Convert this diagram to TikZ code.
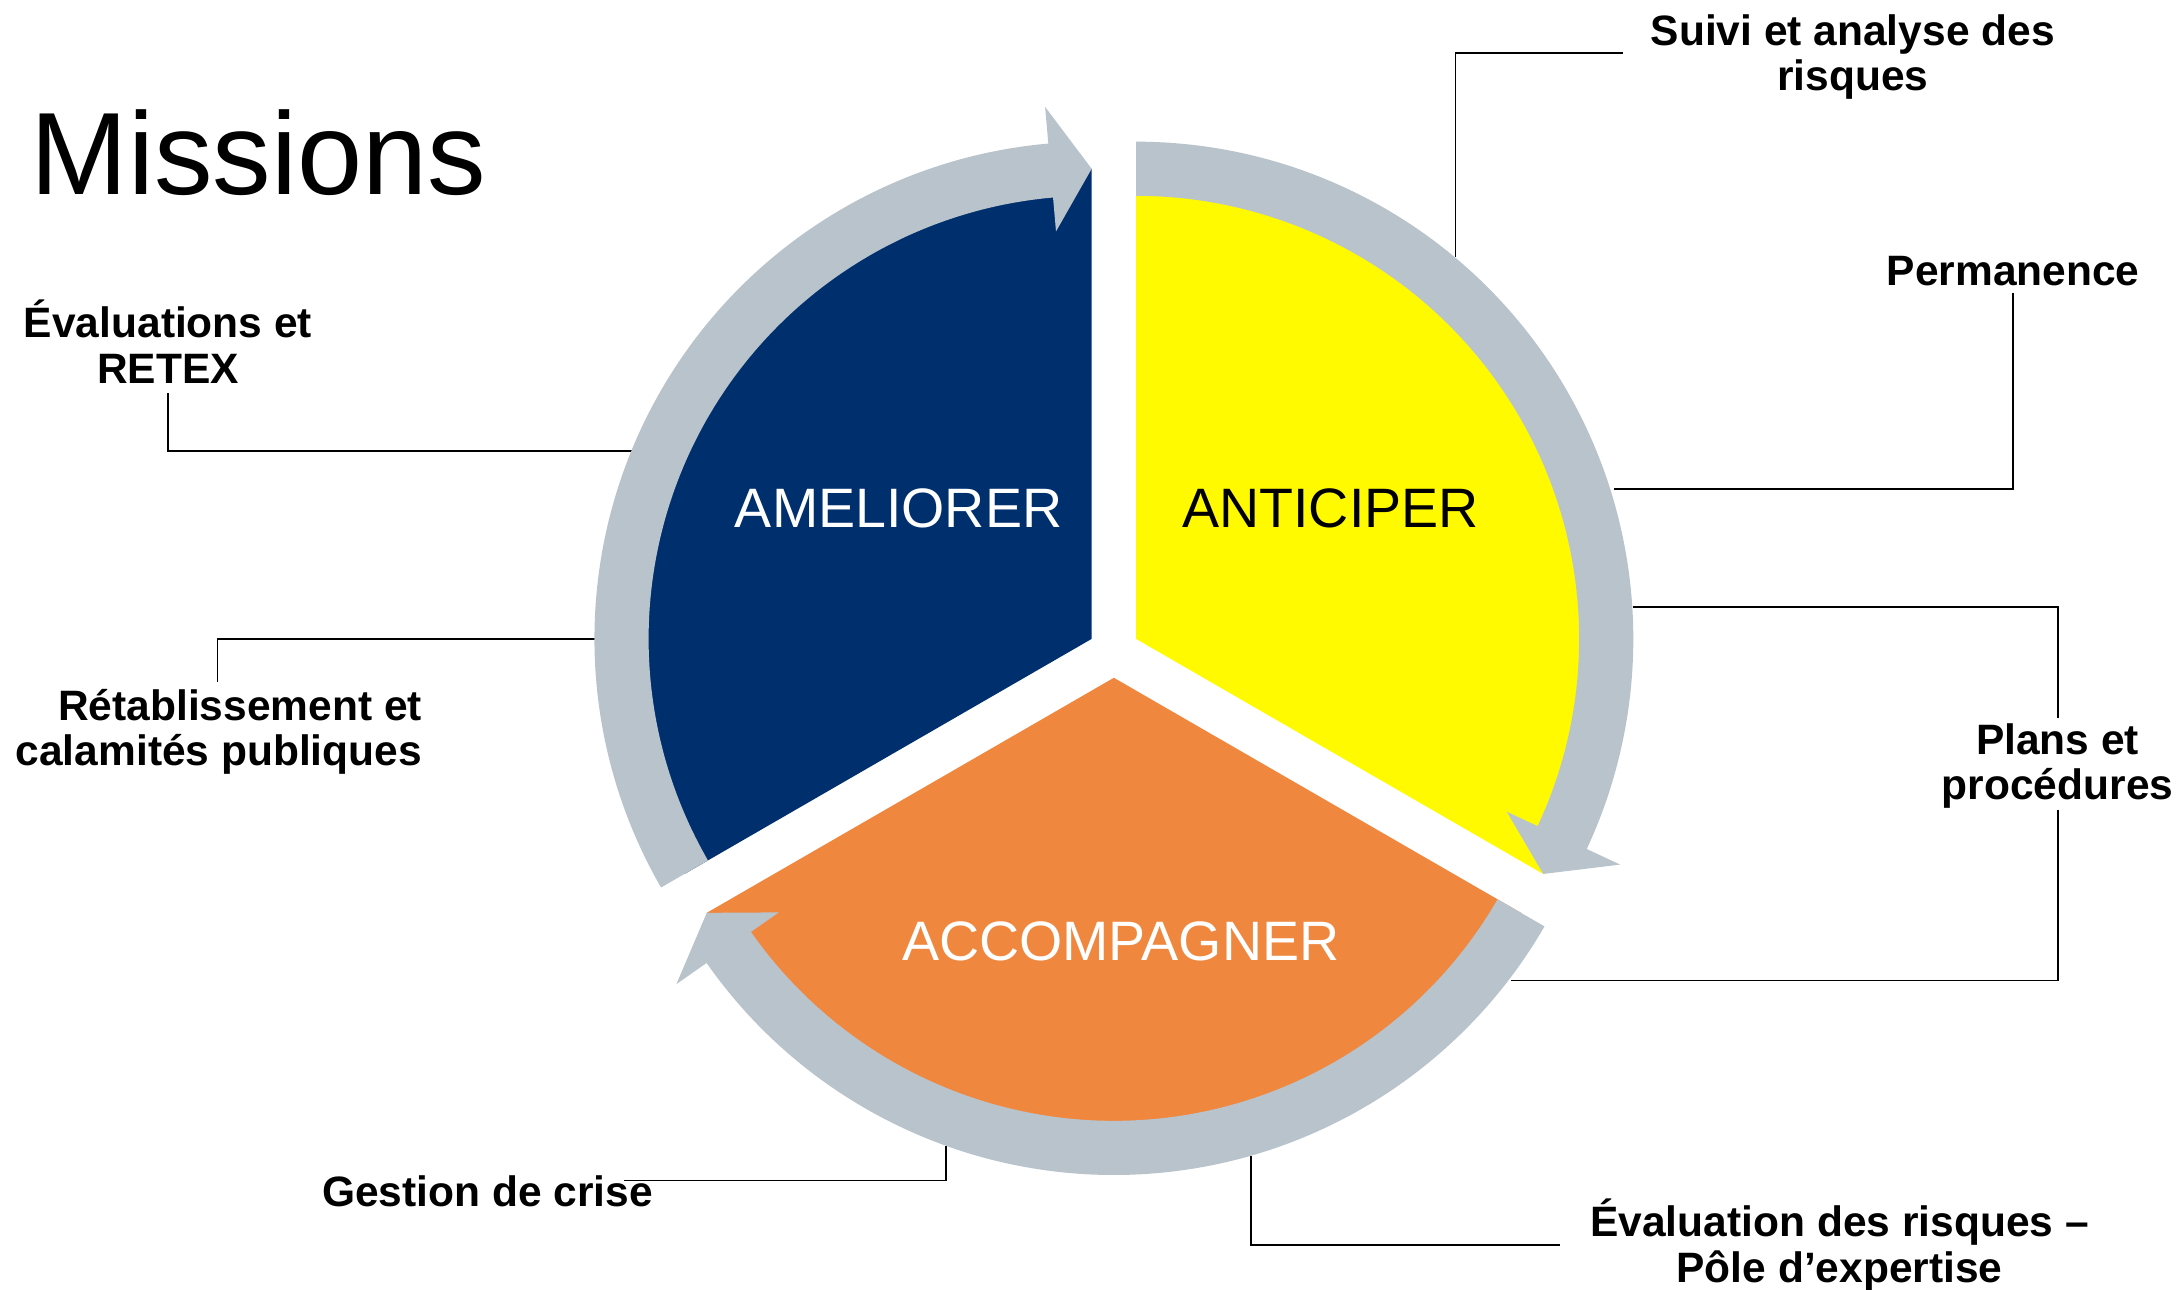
\documentclass[tikz,border=0pt]{standalone}
\usepackage{fontspec}
\setmainfont{Liberation Sans}
\usetikzlibrary{calc}
\definecolor{segblue}{RGB}{0,47,110}
\definecolor{segyellow}{RGB}{255,250,0}
\definecolor{segorange}{RGB}{239,135,63}
\definecolor{ringgray}{RGB}{185,195,204}
\newcommand{\RingArrow}[2]{%
  \fill[ringgray] ($(#1)+(#2:319)$) -- ($(#1)+(#2:358)$)
    arc[start angle=#2, end angle=#2-115, radius=358pt]
    -- ($(#1)+(#2-115:384.5)$) -- ($(#1)+(#2-120:338.5)$) -- ($(#1)+(#2-115:294.5)$)
    -- ($(#1)+(#2-115:319)$)
    arc[start angle=#2-115, end angle=#2, radius=319pt] -- cycle;}
\begin{document}
\begin{tikzpicture}[x=1pt,y=1pt,
  lbl/.style={font=\fontsize{30.6}{32.5}\selectfont\bfseries, align=center, inner sep=0pt},
  seg/.style={font=\fontsize{40}{44}\selectfont, inner sep=0pt},
  conn/.style={draw=black, line width=1.3pt}]
\useasboundingbox (0,0) rectangle (1568.9,-928.8);
% slice vertices
\coordinate (cb) at (786,-460);
\coordinate (cy) at (818,-460);
\coordinate (co) at (802,-488);
% ring attachment points
\coordinate (r1) at (1048,-185);
\coordinate (r2) at (1162,-352);
\coordinate (r3) at (1176,-437);
\coordinate (r4) at (1088,-706);
\coordinate (r5) at (901,-832);
\coordinate (r6) at (681,-825);
\coordinate (r7) at (428.5,-460);
\coordinate (r8) at (454.7,-325);
% title
\node[anchor=base west, inner sep=0pt, font=\fontsize{84.3}{88}\selectfont] (title) at (21.9,-140.4) {Missions};
% labels
\node[lbl] (suivi) at (1334,-41) {Suivi et analyse des\\risques};
\node[lbl] (perm) at (1449.5,-195) {Permanence};
\node[lbl] (retex) at (121,-246) {Évaluations et\\RETEX};
\node[lbl, align=right, anchor=east] (retab) at (304,-527) {Rétablissement et\\calamités publiques};
\node[lbl] (plans) at (1481.5,-551.5) {Plans et\\procédures};
\node[lbl] (gestion) at (351,-858) {Gestion de crise};
\node[lbl] (evalr) at (1324.5,-896.5) {Évaluation des risques –\\Pôle d’expertise};
% connectors
\draw[conn] ([xshift=-20,yshift=3]suivi.west) -| (r1);
\draw[conn] ([yshift=-5]perm.south) |- (r2);
\draw[conn] ([yshift=4]plans.north) |- (r3);
\draw[conn] ([yshift=-1]plans.south) |- (r4);
\draw[conn] ([xshift=-22]evalr.west) -| (r5);
\draw[conn] ([xshift=-21,yshift=8]gestion.east) -| (r6);
\draw[conn] ([xshift=-1,yshift=5]retab.north) |- (r7);
\draw[conn] ([yshift=-7]retex.south) |- (r8);
% slices
\fill[segblue] (cb) -- ++(90:338.5) arc[start angle=90, end angle=210, radius=338.5pt] -- cycle;
\fill[segyellow] (cy) -- ++(90:338.5) arc[start angle=90, end angle=-30, radius=338.5pt] -- cycle;
\fill[segorange] (co) -- ++(-30:338.5) arc[start angle=-30, end angle=-150, radius=338.5pt] -- cycle;
% ring arrows
\RingArrow{cb}{210}
\RingArrow{cy}{90}
\RingArrow{co}{-30}
% slice texts
\node[seg, text=white] (ameliorer) at (647,-366) {AMELIORER};
\node[seg, text=black] (anticiper) at (958,-366) {ANTICIPER};
\node[seg, text=white] (accompagner) at (807,-678) {ACCOMPAGNER};
\end{tikzpicture}
\end{document}
